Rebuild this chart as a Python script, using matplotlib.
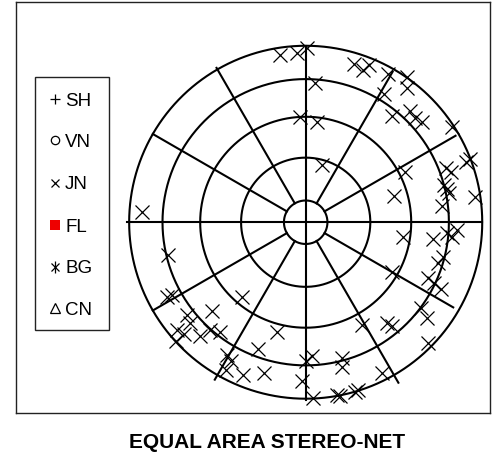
import numpy as np
import matplotlib
matplotlib.use("Agg")
import matplotlib.pyplot as plt
from matplotlib.patches import Rectangle

plt.rcParams['font.family'] = ['Liberation Sans', 'DejaVu Sans']

# Joint poles (JN), projected east / north positions on the unit equal-area net
jn_east = [
    -0.146, -0.051, 0.007, 0.053, -0.032, 0.062,
    0.274, 0.325, 0.359, 0.466, 0.572, 0.572, 0.444, 0.487, 0.591, 0.619, 0.657, 0.829,
    0.092, 0.563, 0.500, 0.795, 0.823, 0.908, 0.931, 0.784, 0.801, 0.812, 0.959, 0.771,
    0.553, 0.723, 0.799, 0.829, 0.856, 0.778, 0.751, 0.487, 0.693, 0.727, 0.767, 0.653, 0.686, 0.693,
    0.317, 0.459, 0.487, 0.034, 0.002, 0.204, 0.204, -0.021, 0.431, 0.041, 0.176, 0.194, 0.279, 0.298,
    -0.788, -0.759, -0.363, -0.533, -0.675, -0.656, -0.729, -0.690, -0.735, -0.599, -0.542, -0.486,
    -0.164, -0.269, -0.448, -0.423, -0.452, -0.354, -0.236,
    -0.926, -0.778,
]
jn_north = [
    0.947, 0.957, 0.987, 0.790, 0.596, 0.569,
    0.896, 0.862, 0.891, 0.840, 0.823, 0.760, 0.726, 0.602, 0.630, 0.590, 0.569, 0.541,
    0.324, 0.286, 0.151, 0.307, 0.284, 0.341, 0.358, 0.211, 0.188, 0.165, 0.144, 0.092,
    -0.081, -0.095, -0.063, -0.084, -0.044, -0.197, -0.233, -0.280, -0.316, -0.344, -0.378, -0.486, -0.540, -0.686,
    -0.582, -0.573, -0.588, -0.758, -0.786, -0.771, -0.820, -0.900, -0.856, -0.998, -0.979, -0.982, -0.960, -0.951,
    -0.422, -0.412, -0.422, -0.503, -0.526, -0.571, -0.611, -0.633, -0.673, -0.645, -0.611, -0.622,
    -0.620, -0.718, -0.755, -0.784, -0.835, -0.866, -0.856,
    0.059, -0.186,
]

# Net grid: rings at these angles from the centre, spokes every 30 degrees
ring_angles = [10, 30, 50, 70, 90]
spoke_azimuths = [30, 60, 120, 150, 210, 240, 300, 330]
spoke_outer = [0.985, 0.98, 0.965, 1.05, 1.03, 1.0, 1.0, 1.01]

legend_labels = ["SH", "VN", "JN", "FL", "BG", "CN"]
title_text = "EQUAL AREA STEREO-NET"

W, H = 498, 457
fig = plt.figure(figsize=(W / 100, H / 100), dpi=100)
ax = fig.add_axes([16 / W, 1 - 413 / H, 474 / W, 411 / H])
ax.set_xlim(-1.641, 1.044)
ax.set_ylim(-1.081, 1.248)
ax.set_xticks([])
ax.set_yticks([])
for s in ax.spines.values():
    s.set_linewidth(1.0)
    s.set_color('#222222')


def ring_radius(angle_deg):
    return np.sqrt(2) * np.sin(np.radians(angle_deg) / 2)


t = np.linspace(0, 2 * np.pi, 721)
for a in ring_angles:
    r = ring_radius(a)
    ax.plot(r * np.sin(t), r * np.cos(t), color='k', lw=1.5, solid_capstyle='butt')

r_in = ring_radius(ring_angles[0])
for az, r_out in zip(spoke_azimuths, spoke_outer):
    rad = np.radians(az)
    ax.plot([r_in * np.sin(rad), r_out * np.sin(rad)],
            [r_in * np.cos(rad), r_out * np.cos(rad)], color='k', lw=1.5)
ax.plot([0, 0], [-1.005, 1.0], color='k', lw=1.5)
ax.plot([-1.01, 1.0], [0, 0], color='k', lw=1.5)

ax.plot(jn_east, jn_north, linestyle='none', marker='x', color='k',
        ms=10, mew=0.9)

# Legend panel on the left
def fx(px):
    return px / W


def fy(py):
    return 1 - py / H


fig.add_artist(Rectangle((fx(35.3), fy(330)), 73.4 / W, 252.7 / H,
                         transform=fig.transFigure, fill=False, lw=1.0,
                         edgecolor='#222222'))
row_y = [98.8, 140.3, 182.7, 225.0, 266.7, 308.3]
mk_x = 55
styles = [
    dict(marker='+', ms=7, mew=0.9, color='k'),
    dict(marker='o', ms=6, mew=0.9, color='k', mfc='none'),
    dict(marker='x', ms=6, mew=0.9, color='k'),
    dict(marker='s', ms=7, mew=0, color='#ee0000'),
    None,
    dict(marker='^', ms=7, mew=0.9, color='k', mfc='none'),
]
for lab, y, st in zip(legend_labels, row_y, styles):
    if st is None:
        fig.add_artist(plt.Line2D([fx(mk_x)], [fy(y)], transform=fig.transFigure,
                                  marker='x', ms=6, mew=0.9, color='k', linestyle='none'))
        fig.add_artist(plt.Line2D([fx(mk_x)], [fy(y)], transform=fig.transFigure,
                                  marker='|', ms=8, mew=0.9, color='k', linestyle='none'))
    else:
        fig.add_artist(plt.Line2D([fx(mk_x)], [fy(y)], transform=fig.transFigure,
                                  linestyle='none', **st))
    fig.text(fx(65), fy(y + 6.7), lab, fontsize=13.5, ha='left', va='baseline')

fig.text(fx(266.7), fy(447.7), title_text, fontsize=15, fontweight='bold',
         ha='center', va='baseline')

fig.savefig("out.png", dpi=100)
